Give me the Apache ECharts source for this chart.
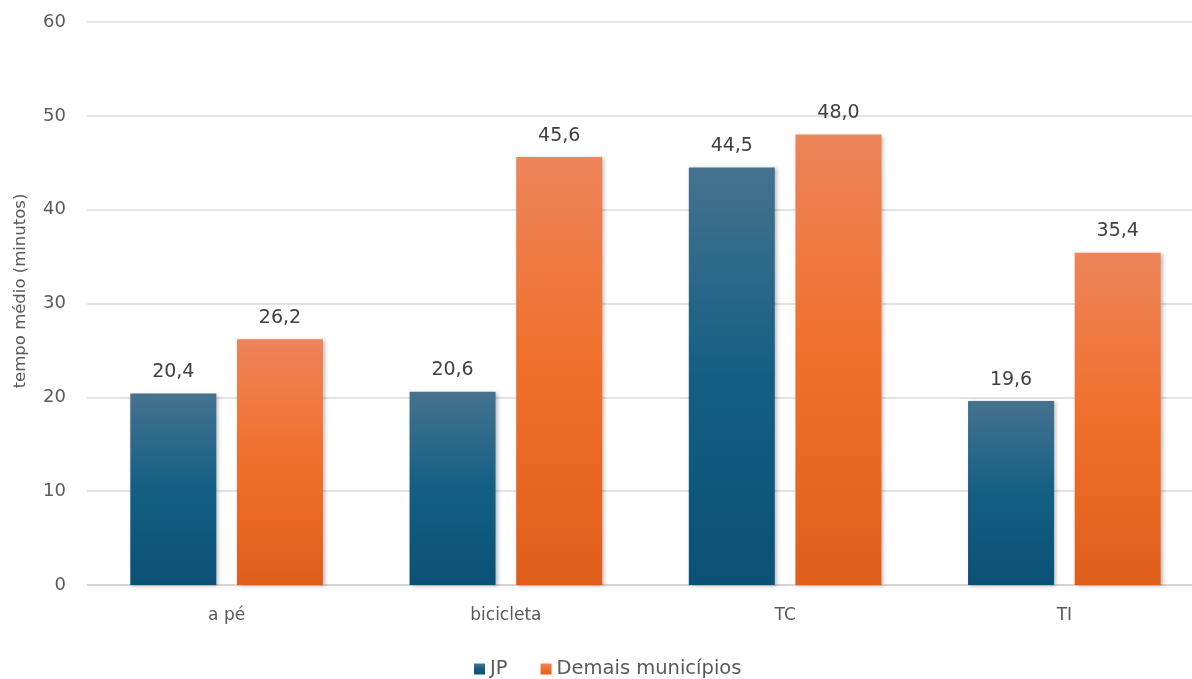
<!DOCTYPE html>
<html>
<head>
<meta charset="utf-8">
<script src="https://cdn.jsdelivr.net/npm/echarts@6/dist/echarts.min.js"></script>
<style>
html,body{margin:0;padding:0;background:#fff;}
#chart{width:1192px;height:679px;}
</style>
</head>
<body>
<div id="chart"></div>
<script>
// Tempo médio de viagem por modo (minutos)
const categories = ['a pé', 'bicicleta', 'TC', 'TI'];
const seriesNames = ['JP', 'Demais municípios'];
const jpValues = [20.4, 20.6, 44.5, 19.6];
const demaisValues = [26.2, 45.6, 48.0, 35.4];
const yTicks = [0, 10, 20, 30, 40, 50, 60];

const fmt = v => v.toFixed(1).replace('.', ',');

function grad(top, mid, bottom) {
  return new echarts.graphic.LinearGradient(0, 0, 0, 1, [
    { offset: 0, color: top },
    { offset: 0.5, color: mid },
    { offset: 1, color: bottom }
  ]);
}

const font = '"DejaVu Sans", Verdana, sans-serif';
const chart = echarts.init(document.getElementById('chart'));

const labelCfg = {
  show: true,
  position: 'top',
  distance: 12,
  color: '#404040',
  fontSize: 19,
  fontFamily: font,
  formatter: p => fmt(p.value)
};
const shadow = {
  shadowBlur: 4,
  shadowOffsetX: 2,
  shadowOffsetY: 1,
  shadowColor: 'rgba(0,0,0,0.25)'
};

chart.setOption({
  animation: false,
  // plot area runs past the right edge of the canvas
  grid: { left: 87, width: 1117, top: 22, bottom: 94, containLabel: false, outerBoundsMode: 'none' },
  legend: {
    top: 659,
    left: 474,
    padding: 0,
    itemWidth: 11,
    itemHeight: 11,
    itemGap: 33,
    icon: 'rect',
    textStyle: { color: '#595959', fontSize: 19.5, fontFamily: font },
    data: seriesNames
  },
  xAxis: {
    type: 'category',
    data: categories,
    axisLine: { lineStyle: { color: '#d0d0d0', width: 1.5 } },
    axisTick: { show: false },
    axisLabel: { color: '#595959', fontSize: 17, fontFamily: font, margin: 22 }
  },
  yAxis: {
    type: 'value',
    min: yTicks[0],
    max: yTicks[yTicks.length - 1],
    interval: 10,
    name: 'tempo médio (minutos)',
    nameLocation: 'middle',
    nameGap: 58,
    nameRotate: 90,
    nameTextStyle: { color: '#595959', fontSize: 16.5, fontFamily: font, padding: [0, 0, 0, 25] },
    axisLine: { show: false },
    axisTick: { show: false },
    axisLabel: { color: '#595959', fontSize: 18, fontFamily: font, margin: 21 },
    splitLine: { lineStyle: { color: '#d9d9d9', width: 1.5 } }
  },
  series: [
    {
      name: seriesNames[0],
      type: 'bar',
      data: jpValues,
      barWidth: 86,
      barGap: '24%',
      itemStyle: Object.assign({ color: grad('#46728f', '#135f84', '#0a5175') }, shadow),
      label: labelCfg
    },
    {
      name: seriesNames[1],
      type: 'bar',
      data: demaisValues,
      barWidth: 86,
      itemStyle: Object.assign({ color: grad('#ed845a', '#f06f2a', '#e05e1b') }, shadow),
      label: labelCfg
    }
  ]
});
</script>
</body>
</html>
